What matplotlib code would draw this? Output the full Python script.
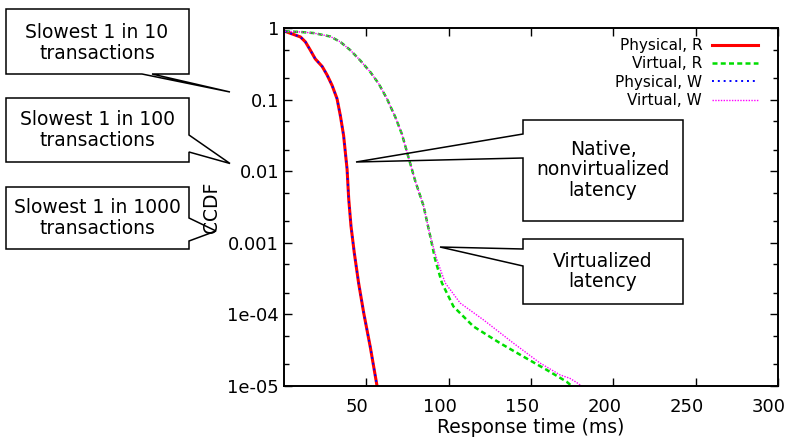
import numpy as np
import matplotlib
matplotlib.use("Agg")
import matplotlib.pyplot as plt
import matplotlib.transforms as mtransforms
from matplotlib.patches import Polygon
from matplotlib.ticker import LogLocator, NullFormatter

# response time (ms) and CCDF
phys_x = [0.5, 10, 13, 16, 19, 23.2, 26.2, 29.2, 32.2, 34.2, 36.2, 38.3, 39.3, 40.7, 42.7, 45.3, 48.4, 52.4, 56.5]
phys_y = [0.9, 0.75, 0.64, 0.49, 0.37, 0.29, 0.22, 0.158, 0.103, 0.06, 0.0315, 0.0107, 0.0041, 0.0017,
          7.2e-4, 2.75e-4, 1.05e-4, 3.5e-5, 1e-5]

virt_r_x = [0.5, 10, 18, 28.2, 34.2, 40.3, 46.4, 52.4, 57.5, 62.5, 67.6, 71.6, 75.6, 79.7, 84.7, 88.8,
            91.8, 95.9, 102.9, 115.0, 131.2, 145.3, 159.5, 171.6, 174.7]
virt_r_y = [0.9, 0.88, 0.85, 0.76, 0.64, 0.49, 0.35, 0.243, 0.167, 0.103, 0.057, 0.033, 0.0156, 0.0073,
            0.0033, 0.00124, 5.85e-4, 2.75e-4, 1.29e-4, 6.8e-5, 3.97e-5, 2.58e-5, 1.68e-5, 1.15e-5, 1e-5]

virt_w_x = virt_r_x[:16] + [92.8, 97.9, 107, 121.1, 139.3, 155.5, 167.6, 173.6, 177.7, 180.7]
virt_w_y = virt_r_y[:16] + [5.85e-4, 2.75e-4, 1.44e-4, 8.4e-5, 3.97e-5, 2.09e-5, 1.43e-5, 1.28e-5, 1.12e-5, 1e-5]

xticks = [50, 100, 150, 200, 250, 300]
yticks = [1, 0.1, 0.01, 0.001, 1e-4, 1e-5]
ytick_labels = ["1", "0.1", "0.01", "0.001", "1e-04", "1e-05"]

W, H = 793, 438
fig = plt.figure(figsize=(W / 100, H / 100), dpi=100)
ax = fig.add_axes([284 / W, 1 - 386 / H, (778 - 284) / W, (386 - 28) / H])

ax.plot(phys_x, phys_y, color="red", lw=2.2, label="Physical, R")
ax.plot(virt_r_x, virt_r_y, color="#00dd00", lw=1.8, ls=(0, (2.0, 1.3)), label="Virtual, R")
ax.plot(phys_x, phys_y, color="blue", lw=1.4, ls=(0, (1, 2)), label="Physical, W")
ax.plot(virt_w_x, virt_w_y, color="magenta", lw=1.0, ls=(0, (1, 1)), label="Virtual, W")

ax.set_yscale("log")
ax.set_xlim(0, 300)
ax.set_ylim(1e-5, 1)
ax.set_xticks(xticks)
ax.set_xticklabels([str(t) for t in xticks])
ax.set_yticks(yticks)
ax.set_yticklabels(ytick_labels)
ax.yaxis.set_minor_locator(LogLocator(base=10, subs=(2, 5)))
ax.yaxis.set_minor_formatter(NullFormatter())
ax.tick_params(which="both", direction="in", top=True, right=True, labelsize=13, width=1.0)
ax.tick_params(which="major", length=6)
ax.tick_params(which="minor", length=3.5)
ax.tick_params(axis="x", pad=9)
ax.tick_params(axis="y", pad=3.5)
for s in ax.spines.values():
    s.set_linewidth(1.4)

# x labels sit a little left of their ticks in the reference
shift = mtransforms.ScaledTranslation(-9 / 100, 0, fig.dpi_scale_trans)
for lab in ax.get_xticklabels():
    lab.set_transform(lab.get_transform() + shift)

ax.set_xlabel("Response time (ms)", fontsize=13.5, labelpad=1)
ax.set_ylabel("CCDF", fontsize=13.5)
ax.yaxis.set_label_coords((221 - 284) / (778 - 284), 0.5)

leg = ax.legend(loc="upper right", bbox_to_anchor=(758 / W, 1 - 38 / H), bbox_transform=fig.transFigure,
                frameon=False, markerfirst=False, fontsize=11, handlelength=3.0, handletextpad=0.65,
                labelspacing=0.22, borderpad=0, borderaxespad=0)


def fp(pts):
    return [(x / W, 1 - y / H) for x, y in pts]


# callout boxes (pixel outlines)
callouts = [
    ([(6, 9), (189, 9), (189, 74), (152, 74), (230, 92), (142, 74), (6, 74)], (97, 43),
     "Slowest 1 in 10\ntransactions"),
    ([(6, 98), (189, 98), (189, 135), (230, 163.5), (189, 152), (189, 162), (6, 162)], (97, 130),
     "Slowest 1 in 100\ntransactions"),
    ([(6, 187), (189, 187), (189, 218), (216, 231), (189, 241), (189, 249), (6, 249)], (97, 218),
     "Slowest 1 in 1000\ntransactions"),
    ([(523, 120), (683, 120), (683, 221), (523, 221), (523, 158), (356, 162), (523, 134)], (603, 170),
     "Native,\nnonvirtualized\nlatency"),
    ([(523, 239), (683, 239), (683, 304), (523, 304), (523, 266), (440, 247), (523, 249)], (603, 271.5),
     "Virtualized\nlatency"),
]
for pts, (tx, ty), txt in callouts:
    fig.add_artist(Polygon(fp(pts), closed=True, fill=False, edgecolor="black", lw=1.1,
                           transform=fig.transFigure))
    fig.text(tx / W, 1 - ty / H, txt, ha="center", va="center", fontsize=13.5, linespacing=1.1)

fig.savefig("out.png", dpi=100)
